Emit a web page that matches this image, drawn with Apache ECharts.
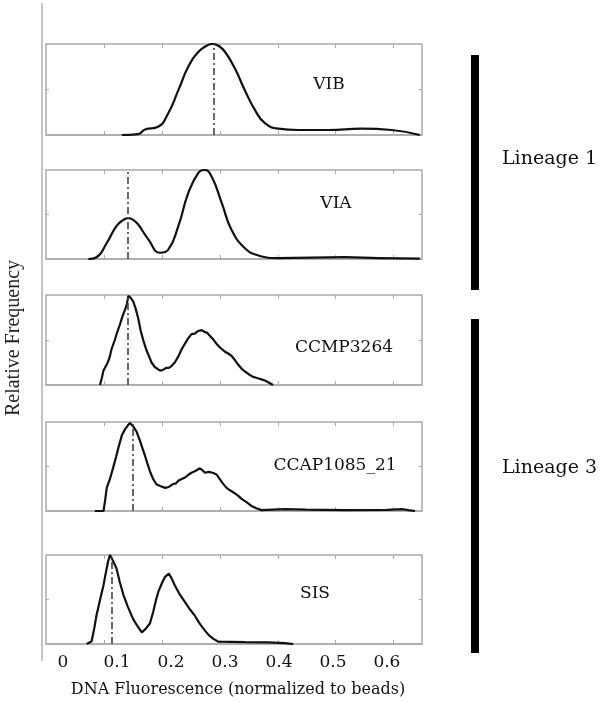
<!DOCTYPE html>
<html>
<head>
<meta charset="utf-8">
<title>DNA fluorescence histograms</title>
<script src="https://cdn.jsdelivr.net/npm/echarts@6.0.0/dist/echarts.min.js"></script>
<style>
  html, body { margin: 0; padding: 0; background: #fff; }
  #chart { width: 600px; height: 703px; }
</style>
</head>
<body>
<div id="chart"></div>
<script>
// x range of the boxes (in label units)
const xMin = -0.0315, xMax = 0.665;
const xTickLabels = [0, 0.1, 0.2, 0.3, 0.4, 0.5, 0.6];
const boxTicks = [0.077, 0.184, 0.291, 0.398, 0.505, 0.612];

const names = ['VIB', 'VIA', 'CCMP3264', 'CCAP1085_21', 'SIS'];
const peaks = [0.278, 0.121, 0.12, 0.125, 0.087];

// curves, [x, relative frequency]
const vib = [[0.109,0],[0.139,0.01],[0.152,0.06],[0.176,0.09],[0.195,0.24],[0.2135,0.49],[0.232,0.75],[0.251,0.915],[0.266,0.98],[0.277,1.0],[0.288,0.98],[0.300,0.915],[0.3185,0.73],[0.337,0.49],[0.356,0.27],[0.374,0.13],[0.399,0.07],[0.436,0.055],[0.491,0.055],[0.553,0.07],[0.609,0.055],[0.661,0]];
const via = [[0.047,0],[0.062,0.02],[0.081,0.18],[0.099,0.37],[0.112,0.44],[0.121,0.46],[0.130,0.44],[0.139,0.39],[0.158,0.22],[0.18,0.07],[0.195,0.105],[0.2136,0.37],[0.232,0.74],[0.251,0.97],[0.262,1.0],[0.275,0.93],[0.294,0.63],[0.312,0.33],[0.337,0.12],[0.362,0.04],[0.399,0.01],[0.522,0.02],[0.584,0.01],[0.661,0.005]];
const ccmp = [[0.0685,0],[0.072,0.08],[0.075,0.16],[0.082,0.24],[0.086,0.30],[0.090,0.40],[0.096,0.50],[0.1,0.58],[0.1056,0.675],[0.110,0.76],[0.115,0.84],[0.118,0.89],[0.121,0.99],[0.125,0.97],[0.130,0.93],[0.134,0.86],[0.139,0.75],[0.144,0.60],[0.149,0.49],[0.155,0.38],[0.160,0.31],[0.164,0.25],[0.170,0.20],[0.175,0.18],[0.180,0.16],[0.186,0.17],[0.191,0.19],[0.196,0.19],[0.201,0.21],[0.207,0.25],[0.213,0.31],[0.220,0.40],[0.226,0.46],[0.232,0.52],[0.238,0.565],[0.244,0.57],[0.250,0.60],[0.257,0.61],[0.262,0.59],[0.267,0.58],[0.272,0.546],[0.278,0.51],[0.284,0.46],[0.290,0.42],[0.294,0.40],[0.300,0.37],[0.306,0.35],[0.312,0.325],[0.318,0.28],[0.324,0.23],[0.331,0.18],[0.337,0.15],[0.344,0.12],[0.352,0.09],[0.358,0.08],[0.364,0.07],[0.369,0.06],[0.374,0.05],[0.380,0.03],[0.389,0]];
const ccap = [[0.059,0],[0.075,0],[0.078,0.12],[0.081,0.26],[0.087,0.36],[0.093,0.49],[0.098,0.60],[0.103,0.72],[0.109,0.85],[0.115,0.92],[0.120,0.96],[0.124,0.99],[0.130,0.95],[0.1364,0.89],[0.142,0.80],[0.147,0.71],[0.152,0.62],[0.157,0.52],[0.162,0.43],[0.167,0.36],[0.173,0.30],[0.180,0.28],[0.189,0.26],[0.196,0.27],[0.203,0.30],[0.209,0.31],[0.2136,0.34],[0.220,0.36],[0.227,0.38],[0.233,0.41],[0.238,0.43],[0.245,0.45],[0.2537,0.48],[0.258,0.46],[0.263,0.43],[0.270,0.44],[0.277,0.43],[0.2846,0.41],[0.290,0.36],[0.296,0.31],[0.303,0.26],[0.310,0.23],[0.318,0.20],[0.3247,0.17],[0.332,0.13],[0.340,0.10],[0.349,0.057],[0.358,0.03],[0.368,0.01],[0.411,0.02],[0.45,0.015],[0.522,0.01],[0.60,0.012],[0.630,0.02],[0.640,0.01],[0.652,0]];
const sis = [[0.044,0],[0.053,0.03],[0.058,0.18],[0.062,0.32],[0.068,0.48],[0.075,0.66],[0.080,0.82],[0.084,0.94],[0.087,1.0],[0.093,0.93],[0.099,0.85],[0.105,0.70],[0.112,0.55],[0.120,0.42],[0.130,0.28],[0.138,0.20],[0.146,0.13],[0.153,0.17],[0.161,0.23],[0.167,0.36],[0.1725,0.50],[0.1765,0.585],[0.183,0.68],[0.189,0.755],[0.196,0.79],[0.201,0.74],[0.207,0.66],[0.215,0.57],[0.226,0.47],[0.235,0.39],[0.244,0.32],[0.252,0.24],[0.258,0.19],[0.263,0.15],[0.270,0.10],[0.278,0.06],[0.2877,0.026],[0.337,0.02],[0.38,0.018],[0.411,0.01],[0.4265,0]];

const curves = [vib, via, ccmp, ccap, sis];
const smoothing = [0.5, 0.5, false, false, false];

// panel layout
const tops = [44, 170, 295, 422, 555];
const heights = [91, 89, 90, 89, 89];
const labelPos = [[329, 85], [336, 204], [344, 348], [335, 466], [315, 594]];

const boxColor = '#aaaaaa';
const serif = '"DejaVu Serif", serif';

let grids = [], xAxes = [], yAxes = [], series = [], texts = [];

function tickAxis(extra) {
  return Object.assign({
    type: 'value',
    axisLine: { show: false, onZero: false },
    axisLabel: { show: false },
    splitLine: { show: false }
  }, extra);
}

for (let i = 0; i < 5; i++) {
  const last = i === 4;
  grids.push({
    left: 46, width: 376, top: tops[i], height: heights[i],
    show: true, borderColor: boxColor, borderWidth: 1.5, backgroundColor: 'transparent'
  });
  // bottom axis
  xAxes.push(tickAxis({
    gridIndex: i, min: xMin, max: xMax, position: 'bottom',
    axisLine: { show: true, onZero: false, lineStyle: { color: boxColor, width: 1.5 } },
    axisTick: { show: true, inside: true, length: 4, customValues: boxTicks, lineStyle: { color: boxColor } },
    axisLabel: last ? {
      show: true, customValues: xTickLabels, margin: 10,
      color: '#111', fontFamily: serif, fontSize: 17,
      formatter: v => String(Math.round(v * 10) / 10)
    } : { show: false }
  }));
  // top axis, ticks only
  xAxes.push(tickAxis({
    gridIndex: i, min: xMin, max: xMax, position: 'top',
    axisTick: { show: true, inside: true, length: 4, customValues: boxTicks, lineStyle: { color: boxColor } }
  }));
  yAxes.push(tickAxis({
    gridIndex: i, min: 0, max: 1, position: 'left',
    axisTick: { show: true, inside: true, length: 3, customValues: [0.5], lineStyle: { color: boxColor } }
  }));
  yAxes.push(tickAxis({
    gridIndex: i, min: 0, max: 1, position: 'right',
    axisTick: { show: true, inside: true, length: 3, customValues: [0.5], lineStyle: { color: boxColor } }
  }));

  series.push({
    type: 'line', name: names[i],
    xAxisIndex: 2 * i, yAxisIndex: 2 * i,
    data: curves[i], showSymbol: false,
    smooth: smoothing[i],
    lineStyle: { color: '#111', width: 2.2 },
    silent: true, clip: true,
    markLine: {
      symbol: 'none', silent: true, label: { show: false },
      lineStyle: { color: '#444', width: 1.6, type: [7, 3, 2, 3] },
      data: [{ xAxis: peaks[i] }]
    }
  });

  texts.push({
    type: 'text', x: labelPos[i][0], y: labelPos[i][1],
    style: { text: names[i], fill: '#111', font: '17px ' + serif, align: 'center', verticalAlign: 'middle' }
  });
}

const graphics = texts.concat([
  // left gray line
  { type: 'line', shape: { x1: 42, y1: 3, x2: 42, y2: 661 }, style: { stroke: '#b0b0b0', lineWidth: 1.5 } },
  // lineage bars
  { type: 'rect', shape: { x: 471, y: 55, width: 8, height: 235 }, style: { fill: '#000' } },
  { type: 'rect', shape: { x: 471, y: 319, width: 8, height: 334 }, style: { fill: '#000' } },
  { type: 'text', x: 502, y: 159, style: { text: 'Lineage 1', fill: '#111', font: '19px ' + serif, align: 'left', verticalAlign: 'middle' } },
  { type: 'text', x: 502, y: 468, style: { text: 'Lineage 3', fill: '#111', font: '19px ' + serif, align: 'left', verticalAlign: 'middle' } },
  // axis titles
  { type: 'text', x: 14, y: 338, rotation: Math.PI / 2,
    style: { text: 'Relative Frequency', fill: '#222', font: '20px "Liberation Serif", serif', align: 'center', verticalAlign: 'middle' } },
  { type: 'text', x: 238, y: 690,
    style: { text: 'DNA Fluorescence (normalized to beads)', fill: '#111', font: '16px ' + serif, align: 'center', verticalAlign: 'middle' } }
]);

const chart = echarts.init(document.getElementById('chart'), null, { renderer: 'canvas' });
chart.setOption({
  animation: false,
  backgroundColor: '#fff',
  grid: grids,
  xAxis: xAxes,
  yAxis: yAxes,
  series: series,
  graphic: graphics
});
</script>
</body>
</html>
